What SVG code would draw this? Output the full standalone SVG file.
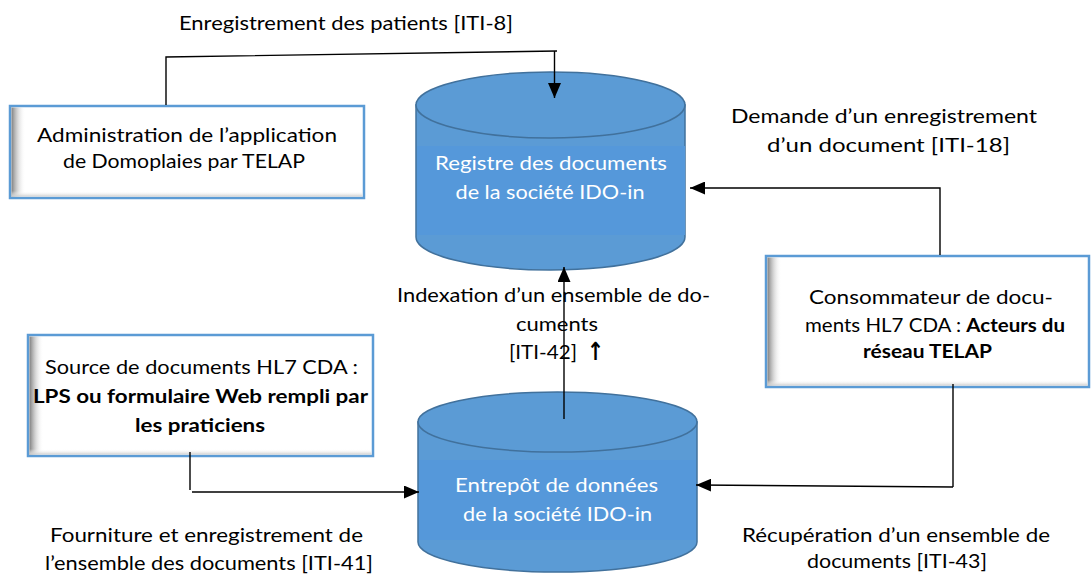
<svg xmlns="http://www.w3.org/2000/svg" width="1091" height="574" viewBox="0 0 1091 574">
<style>
text{font-family:Lato,"Open Sans","Liberation Sans",sans-serif;font-size:19px;fill:#000;text-anchor:middle}
.w{fill:#fff}
.b{font-weight:bold}
.box{fill:#fff;stroke:#5B9BD5;stroke-width:2.5}
.cyl{fill:#5B9BD5;stroke:#41719C;stroke-width:1.5}
.conn{fill:none;stroke:#000;stroke-width:1.4}
</style>
<defs>
<linearGradient id="sh" x1="0" y1="0" x2="1" y2="0">
<stop offset="0" stop-color="#7f7f7f"/>
<stop offset="1" stop-color="#fff" stop-opacity="0"/>
</linearGradient>
<linearGradient id="shb" x1="0" y1="0" x2="0" y2="1">
<stop offset="0" stop-color="#fff" stop-opacity="0"/>
<stop offset="1" stop-color="#cfcfcf"/>
</linearGradient>
<marker id="ah" markerUnits="userSpaceOnUse" markerWidth="16" markerHeight="13" refX="15" refY="6.5" orient="auto">
<path d="M0,0 L15,6.5 L0,13 z" fill="#000"/>
</marker>
</defs>

<g id="registre">
<path class="cyl" d="M416,105 V237 A134.5,33 0 0 0 685,237 V105 Z"/>
<rect x="417" y="146" width="268" height="89" fill="#5598DA"/>
<ellipse class="cyl" cx="550.5" cy="105" rx="134.5" ry="33"/>
<text class="w" x="551" y="170" textLength="232" lengthAdjust="spacingAndGlyphs">Registre des documents</text>
<text class="w" x="550" y="199" textLength="189" lengthAdjust="spacingAndGlyphs">de la société IDO-in</text>
</g>

<g id="entrepot">
<path class="cyl" d="M418,422 V542 A139.5,30 0 0 0 697,542 V422 Z"/>
<rect x="419" y="460" width="277" height="80" fill="#5598DA"/>
<ellipse class="cyl" cx="557.5" cy="422" rx="139.5" ry="30"/>
<text class="w" x="556.5" y="492" textLength="203" lengthAdjust="spacingAndGlyphs">Entrepôt de données</text>
<text class="w" x="557.5" y="521" textLength="189" lengthAdjust="spacingAndGlyphs">de la société IDO-in</text>
</g>

<g id="administration">
<rect class="box" x="10" y="106" width="354" height="92"/>
<rect x="11.5" y="107.5" width="14" height="89" fill="url(#sh)"/>
<rect x="11.5" y="191" width="351" height="5.5" fill="url(#shb)"/>
<text x="187" y="142" textLength="300" lengthAdjust="spacingAndGlyphs">Administration de l’application</text>
<text x="184" y="168" textLength="242" lengthAdjust="spacingAndGlyphs">de Domoplaies par TELAP</text>
</g>

<g id="consommateur">
<rect class="box" x="766" y="256" width="323" height="131"/>
<rect x="767.5" y="257.5" width="14" height="128" fill="url(#sh)"/>
<rect x="767.5" y="380" width="320" height="5.5" fill="url(#shb)"/>
<text x="931" y="304" textLength="244" lengthAdjust="spacingAndGlyphs">Consommateur de docu-</text>
<text x="935" y="332" textLength="260" lengthAdjust="spacingAndGlyphs">ments HL7 CDA : <tspan class="b">Acteurs du</tspan></text>
<text class="b" x="927.5" y="358" textLength="129" lengthAdjust="spacingAndGlyphs">réseau TELAP</text>
</g>

<g id="source">
<rect class="box" x="28" y="335" width="345" height="121"/>
<rect x="29.5" y="336.5" width="14" height="118" fill="url(#sh)"/>
<rect x="29.5" y="449" width="342" height="5.5" fill="url(#shb)"/>
<text x="201.5" y="374" textLength="313" lengthAdjust="spacingAndGlyphs">Source de documents HL7 CDA :</text>
<text class="b" x="200.5" y="403" textLength="335" lengthAdjust="spacingAndGlyphs">LPS ou formulaire Web rempli par</text>
<text class="b" x="200" y="432" textLength="130" lengthAdjust="spacingAndGlyphs">les praticiens</text>
</g>

<g id="labels">
<text x="346" y="30" textLength="334" lengthAdjust="spacingAndGlyphs">Enregistrement des patients [ITI-8]</text>
<text x="884" y="123" textLength="306" lengthAdjust="spacingAndGlyphs">Demande d’un enregistrement</text>
<text x="888.5" y="152" textLength="243" lengthAdjust="spacingAndGlyphs">d’un document [ITI-18]</text>
<text x="553.5" y="302" textLength="313" lengthAdjust="spacingAndGlyphs">Indexation d’un ensemble de do-</text>
<text x="557" y="331" textLength="82" lengthAdjust="spacingAndGlyphs">cuments</text>
<text x="543" y="359" textLength="68" lengthAdjust="spacingAndGlyphs">[ITI-42]</text>
<text x="595.5" y="360" textLength="17" lengthAdjust="spacingAndGlyphs" style="font-family:'DejaVu Sans',sans-serif;font-weight:bold;font-size:25px">↑</text>
<text x="206.5" y="542" textLength="313" lengthAdjust="spacingAndGlyphs">Fourniture et enregistrement de</text>
<text x="209" y="570" textLength="328" lengthAdjust="spacingAndGlyphs">l’ensemble des documents [ITI-41]</text>
<text x="896" y="542" textLength="308" lengthAdjust="spacingAndGlyphs">Récupération d’un ensemble de</text>
<text x="897" y="568" textLength="180" lengthAdjust="spacingAndGlyphs">documents [ITI-43]</text>
</g>

<g id="connectors">
<path class="conn" d="M166,105 V57 L557,51"/>
<path class="conn" d="M554.5,51 V98" marker-end="url(#ah)"/>
<path class="conn" d="M940,255 V188 H690" marker-end="url(#ah)"/>
<path class="conn" d="M564,419 V267" marker-end="url(#ah)"/>
<path class="conn" d="M190,452 V490"/>
<path class="conn" d="M192,492 H419" marker-end="url(#ah)"/>
<path class="conn" d="M953,384 V487"/>
<path class="conn" d="M953,487 L696,485" marker-end="url(#ah)"/>
</g>
</svg>
